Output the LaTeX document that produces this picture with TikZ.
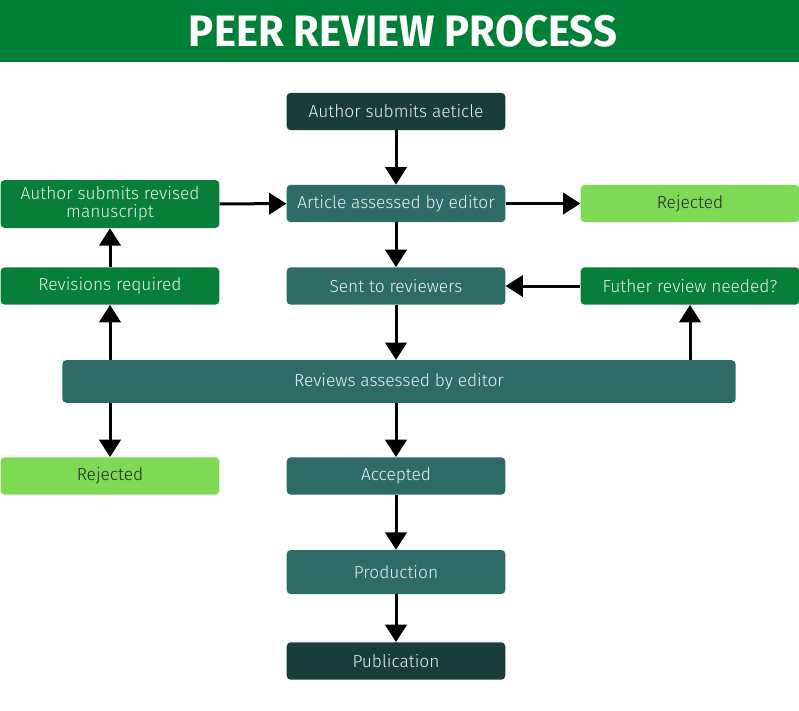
\documentclass[tikz,border=0pt]{standalone}
\usepackage{fontspec}
\setmainfont{Fira Sans Light}
\newfontfamily\titlefont[FakeStretch=0.95]{Fira Sans Bold}
\usetikzlibrary{arrows.meta}

\definecolor{bandgreen}{RGB}{0,128,55}
\definecolor{boxgreen}{RGB}{8,127,56}
\definecolor{darkteal}{RGB}{24,61,58}
\definecolor{midteal}{RGB}{47,107,102}
\definecolor{lightgreen}{RGB}{126,217,87}
\definecolor{paletext}{RGB}{232,242,238}

\tikzset{
  box/.style={rounded corners=3pt, minimum width=164pt, minimum height=28pt,
    inner sep=2pt, font=\fontsize{13}{13.5}\selectfont, text=paletext},
  tealbox/.style={box, fill=midteal},
  darkbox/.style={box, fill=darkteal},
  greenbox/.style={box, fill=boxgreen},
  rejbox/.style={box, fill=lightgreen, text=black!85},
  flow/.style={line width=2.25pt, -{Triangle[width=16pt,length=13pt]}}
}

\begin{document}
\begin{tikzpicture}[x=0.75pt,y=-0.75pt]
\useasboundingbox (0,0) rectangle (799,710);
\fill[bandgreen] (0,0) rectangle (799,62);
\node[text=white, font=\titlefont\fontsize{33}{36}\selectfont] (title) at (403,31) {PEER REVIEW PROCESS};

\node[darkbox] (submit) at (396,111.5) {Author submits aeticle};
\node[tealbox] (assess) at (396,203.5) {Article assessed by editor};
\node[greenbox, minimum height=36pt, align=center] (revised) at (110,204) {Author submits revised\\manuscript};
\node[rejbox] (rejtop) at (690,203.5) {Rejected};
\node[greenbox] (revisions) at (110,286) {Revisions required};
\node[tealbox] (sent) at (396,286) {Sent to reviewers};
\node[greenbox] (further) at (690,286) {Futher review needed?};
\node[tealbox, minimum width=505pt, minimum height=32pt] (reviews) at (399,381.5) {Reviews assessed by editor};
\node[rejbox] (rejleft) at (110,476) {Rejected};
\node[tealbox] (accepted) at (396,476) {Accepted};
\node[tealbox, minimum height=33pt] (production) at (396,572) {Production};
\node[darkbox] (publication) at (396,661) {Publication};

\draw[flow] (submit) -- (assess);
\draw[flow] (revised) -- (assess);
\draw[flow] (assess) -- (rejtop);
\draw[flow] (assess) -- (sent);
\draw[flow] (revisions) -- (revised);
\draw[flow] (further) -- (sent);
\draw[flow] (sent) -- (sent |- reviews.north);
\draw[flow] (revisions |- reviews.north) -- (revisions.south);
\draw[flow] (further |- reviews.north) -- (further.south);
\draw[flow] (rejleft |- reviews.south) -- (rejleft.north);
\draw[flow] (accepted |- reviews.south) -- (accepted.north);
\draw[flow] (accepted) -- (production);
\draw[flow] (production) -- (publication);
\end{tikzpicture}
\end{document}
